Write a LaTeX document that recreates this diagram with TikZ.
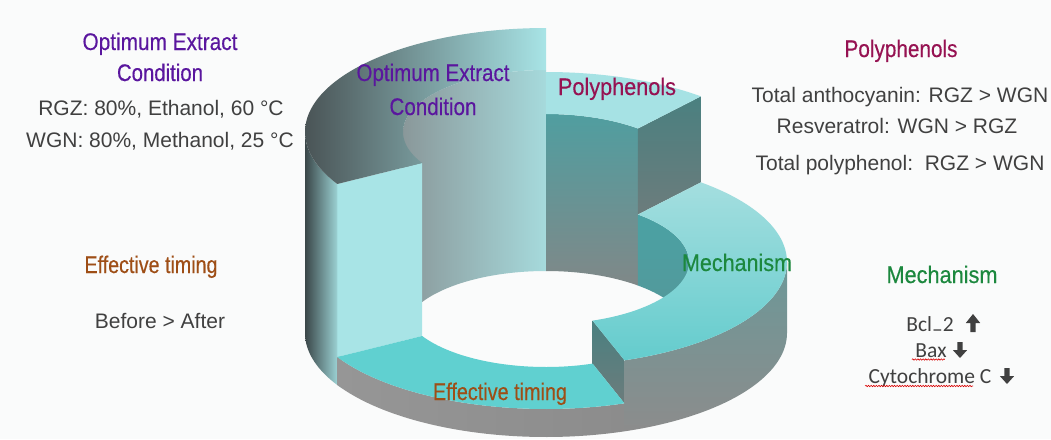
\documentclass[tikz,border=0pt]{standalone}
\usepackage{fontspec}
\usepackage{graphicx}
\setmainfont{Liberation Sans}
\newfontfamily\calib{Carlito}
\newfontfamily\ttlfont[FakeBold=0.4]{Liberation Sans}
\usetikzlibrary{decorations.pathmorphing}

\definecolor{bgc}{RGB}{250,251,251}
\definecolor{txt}{RGB}{64,64,64}
\definecolor{purp}{RGB}{90,22,158}
\definecolor{maro}{RGB}{150,18,82}
\definecolor{grn}{RGB}{28,136,62}
\definecolor{brn}{RGB}{158,78,22}
\definecolor{lcy}{RGB}{168,228,230}
\definecolor{dslate}{RGB}{74,84,86}
\definecolor{midslate}{RGB}{140,166,168}
\definecolor{odark}{RGB}{58,70,72}
\definecolor{omid}{RGB}{120,170,172}
\definecolor{optinL}{RGB}{138,152,154}
\definecolor{optinR}{RGB}{166,218,220}
\definecolor{tealA}{RGB}{80,158,160}
\definecolor{grayA}{RGB}{128,136,136}
\definecolor{cutT}{RGB}{74,128,128}
\definecolor{cutB}{RGB}{108,124,124}
\definecolor{mechT}{RGB}{164,222,223}
\definecolor{mechB}{RGB}{100,204,205}
\definecolor{mechIn}{RGB}{74,162,164}
\definecolor{mechIn2}{RGB}{86,150,152}
\definecolor{effT}{RGB}{96,208,208}
\definecolor{sideG}{RGB}{140,140,140}
\definecolor{sideG2}{RGB}{150,150,150}
\definecolor{mechSideT}{RGB}{108,152,152}
\definecolor{polT}{RGB}{166,226,228}

\newcommand\fitw[2]{\resizebox{#1}{\height}{#2}}

\def\CX{546}
\def\RO{241}
\def\ro{104}
\def\RI{143}
\def\ri{62}
\def\Yb{333}
\def\Yopt{132}
\def\Ypol{176}
\def\Ymech{262}
\def\Yeff{305}

% outer wall: from angle #1 to #2, top level #3, style #4
\newcommand\Owall[4]{\path[#4] plot[domain=#1:#2,samples=60,variable=\t] ({\CX+\RO*cos(\t)},{#3-\ro*sin(\t)}) -- plot[domain=#2:#1,samples=60,variable=\t] ({\CX+\RO*cos(\t)},{\Yb-\ro*sin(\t)}) -- cycle;}
% inner wall
\newcommand\Iwall[4]{\path[#4] plot[domain=#1:#2,samples=60,variable=\t] ({\CX+\RI*cos(\t)},{#3-\ri*sin(\t)}) -- plot[domain=#2:#1,samples=60,variable=\t] ({\CX+\RI*cos(\t)},{\Yb-\ri*sin(\t)}) -- cycle;}
% top surface
\newcommand\Top[4]{\path[#4] plot[domain=#1:#2,samples=60,variable=\t] ({\CX+\RO*cos(\t)},{#3-\ro*sin(\t)}) -- plot[domain=#2:#1,samples=60,variable=\t] ({\CX+\RI*cos(\t)},{#3-\ri*sin(\t)}) -- cycle;}
% radial cut face at angle #1 between levels #2 (upper) and #3 (lower)
\newcommand\Cut[4]{\path[#4] ({\CX+\RO*cos(#1)},{#2-\ro*sin(#1)}) -- ({\CX+\RI*cos(#1)},{#2-\ri*sin(#1)}) -- ({\CX+\RI*cos(#1)},{#3-\ri*sin(#1)}) -- ({\CX+\RO*cos(#1)},{#3-\ro*sin(#1)}) -- cycle;}

\tikzset{
  title/.style={anchor=base, font=\ttlfont\fontsize{24}{27}\selectfont},
  body/.style={anchor=base, text=txt, font=\fontsize{21}{24}\selectfont},
  mech/.style={anchor=base, text=txt, font=\calib\fontsize{21.5}{25}\selectfont},
  wavy/.style={red!85!black, line width=0.6pt, decorate,
    decoration={snake, amplitude=0.7pt, segment length=2.6pt}}
}

\newcommand\uparr[2]{\fill[txt] (#1-2.7,#2+9) -- (#1-2.7,#2) -- (#1-7.2,#2) -- (#1,#2-9) -- (#1+7.2,#2) -- (#1+2.7,#2) -- (#1+2.7,#2+9) -- cycle;}
\newcommand\dnarr[2]{\fill[txt] (#1-2.7,#2-8) -- (#1-2.7,#2) -- (#1-7.2,#2) -- (#1,#2+8) -- (#1+7.2,#2) -- (#1+2.7,#2) -- (#1+2.7,#2-8) -- cycle;}

\begin{document}
\begin{tikzpicture}[x=1pt,y=-1pt]
\fill[bgc] (0,0) rectangle (1051,439);
\useasboundingbox (0,0) rectangle (1051,439);

% ---------- inner walls (back half) ----------
\Iwall{90}{180}{\Yopt}{left color=optinL, right color=optinR}
\Iwall{50}{90}{\Ypol}{top color=tealA, bottom color=grayA}
\Iwall{0}{50}{\Ymech}{top color=mechIn, bottom color=mechIn2}

% ---------- outer walls (front half) ----------
\Owall{180}{212}{\Yopt}{left color=odark, middle color=omid, right color=lcy}
\Owall{210}{289}{\Yeff}{left color=sideG2, right color=sideG}
\Owall{-71}{0}{\Ymech}{top color=mechSideT, bottom color=sideG}

% ---------- cut faces ----------
\Cut{210}{\Yopt}{\Yeff}{fill=lcy}
\Cut{50}{\Ypol}{\Ymech}{top color=cutT, bottom color=cutB}
\Cut{-71}{\Ymech}{\Yeff}{top color=cutT, bottom color=cutB}

% ---------- top surfaces ----------
\Top{90}{210}{\Yopt}{left color=dslate, middle color=midslate, right color=lcy}
\Top{50}{90}{\Ypol}{fill=polT}
\Top{-71}{50}{\Ymech}{top color=mechT, bottom color=mechB}
\Top{210}{289}{\Yeff}{fill=effT}

% ---------- labels on the ring ----------
\node[title, text=purp] (r1a) at (433,81) {\fitw{153pt}{Optimum Extract}};
\node[title, text=purp] (r1b) at (433,115) {\fitw{87pt}{Condition}};
\node[title, text=maro] (r2) at (617,95) {\fitw{118pt}{Polyphenols}};
\node[title, text=grn] (r3) at (737,271) {\fitw{110pt}{Mechanism}};
\node[title, text=brn] (r4) at (500,400) {\fitw{134pt}{Effective timing}};

% ---------- left texts ----------
\node[title, text=purp] (l1a) at (160,50) {\fitw{155pt}{Optimum Extract}};
\node[title, text=purp] (l1b) at (160,81) {\fitw{86pt}{Condition}};
\node[body] (l1c) at (161,115) {RGZ: 80\%, Ethanol, 60 °C};
\node[body] (l1d) at (160,147) {WGN: 80\%, Methanol, 25 °C};
\node[title, text=brn] (l2a) at (151,273) {\fitw{133pt}{Effective timing}};
\node[body] (l2b) at (160,328) {Before > After};

% ---------- right texts ----------
\node[title, text=maro] (p0) at (901,57) {\fitw{113pt}{Polyphenols}};
\node[body] (p1) at (900,102) {Total anthocyanin: RGZ > WGN};
\node[body] (p2) at (897,133) {Resveratrol: WGN > RGZ};
\node[body] (p3) at (900,170) {Total polyphenol:\ \ RGZ > WGN};
\node[title, text=grn] (m0) at (942,283) {\fitw{111pt}{Mechanism}};
\node[mech] (m1) at (930,331) {Bcl\raisebox{-5pt}{–}2};
\node[mech] (m2) at (931,357) {Bax};
\node[mech] (m3) at (930,383) {Cytochrome C};
\uparr{973}{323}
\dnarr{960}{350}
\dnarr{1007}{376}
\draw[wavy] (m2.base west) ++(0,2.5) -- ++(33,0);
\draw[wavy] (m3.base west) ++(0,3) -- ++(108,0);
\end{tikzpicture}
\end{document}
